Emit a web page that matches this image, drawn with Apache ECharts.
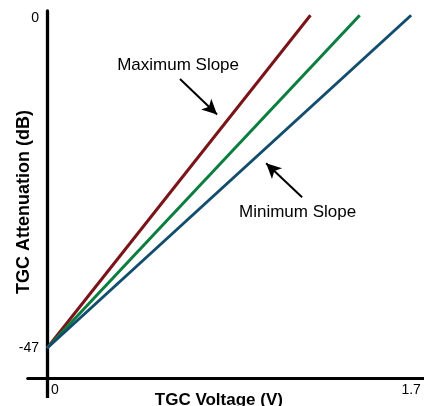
<!DOCTYPE html>
<html>
<head>
<meta charset="utf-8">
<script src="https://cdn.jsdelivr.net/npm/echarts@6/dist/echarts.min.js"></script>
<style>
html,body{margin:0;padding:0;background:#fff;}
#chart{width:424px;height:406px;}
</style>
</head>
<body>
<div id="chart"></div>
<script>
// ---- data ----
const maxSlope = [[0, -47], [1.23, 0]];
const midSlope = [[0, -47], [1.46, 0]];
const minSlope = [[0, -47], [1.70, 0]];
const xTickValues = [0, 1.7];
const yTickValues = [0, -47];
const xTitle = 'TGC Voltage (V)';
const yTitle = 'TGC Attenuation (dB)';
const maxLabel = 'Maximum Slope';
const minLabel = 'Minimum Slope';
// annotation anchors (data units)
const maxLabelAt = [0.612, -7.0];
const maxArrow = [[0.621, -9.0], [0.794, -14.0]];
const minLabelAt = [1.17, -27.8];
const minArrow = [[1.191, -25.7], [1.023, -20.9]];

const FONT = 'Liberation Sans, Arial, sans-serif';
const chart = echarts.init(document.getElementById('chart'), null, {renderer: 'canvas'});

function lineSeries(name, data, color) {
  return {
    name, type: 'line', data, symbol: 'none', silent: true,
    lineStyle: {color, width: 3}, z: 3, animation: false
  };
}

const option = {
  animation: false,
  backgroundColor: '#fff',
  grid: {left: 27.7, right: 0, top: 11, bottom: 28, containLabel: false, outerBoundsMode: 'none'},
  xAxis: {
    type: 'value', min: -0.09, max: 1.76,
    axisLine: {show: true, onZero: false, lineStyle: {color: '#000', width: 3}},
    axisTick: {show: true, customValues: [0], length: 20, inside: false, lineStyle: {color: '#000', width: 3.3}},
    splitLine: {show: false},
    axisLabel: {
      customValues: xTickValues, margin: 5, fontFamily: FONT, fontSize: 14, color: '#000',
      formatter: v => v === 0 ? '{z|0}' : String(v),
      rich: {z: {padding: [0, 0, 0, 16], fontFamily: FONT, fontSize: 14, color: '#000'}}
    },
    name: xTitle, nameLocation: 'middle', nameGap: 14, nameMoveOverlap: false,
    nameTextStyle: {fontFamily: FONT, fontSize: 17, fontWeight: 'bold', color: '#000', padding: [0, 14, 0, 0]}
  },
  yAxis: {
    type: 'value', min: -51.2, max: 0.6,
    axisLine: {show: true, onZero: true, lineStyle: {color: '#000', width: 3.3}},
    axisTick: {show: false},
    splitLine: {show: false},
    axisLabel: {
      customValues: yTickValues, margin: -11.3, fontFamily: FONT, fontSize: 14, color: '#000',
      formatter: v => v === 0 ? '{z|0}' : String(v),
      rich: {z: {padding: [6, 0, 0, 0], fontFamily: FONT, fontSize: 14, color: '#000'}}
    },
    name: yTitle, nameLocation: 'middle', nameGap: -5, nameRotate: 90, nameMoveOverlap: false,
    nameTextStyle: {fontFamily: FONT, fontSize: 18, fontWeight: 'bold', color: '#000', padding: [0, 15, 0, 0]}
  },
  series: [
    lineSeries('Maximum Slope', maxSlope, '#7a1418'),
    lineSeries('Nominal', midSlope, '#0b7d3e'),
    lineSeries('Minimum Slope', minSlope, '#124d6e'),
    {
      type: 'line', data: [], silent: true,
      markLine: {
        silent: true, animation: false,
        symbol: ['none', 'arrow'], symbolSize: [11, 15],
        lineStyle: {color: '#000', width: 2, type: 'solid'},
        label: {show: false},
        data: [
          [{coord: maxArrow[0]}, {coord: maxArrow[1]}],
          [{coord: minArrow[0]}, {coord: minArrow[1]}]
        ]
      },
      markPoint: {
        silent: true, animation: false, symbol: 'circle', symbolSize: 0,
        label: {show: true, position: 'inside', fontFamily: FONT, fontSize: 17, color: '#000', formatter: p => p.name},
        data: [
          {name: maxLabel, coord: maxLabelAt},
          {name: minLabel, coord: minLabelAt}
        ]
      }
    }
  ]
};
chart.setOption(option);
</script>
</body>
</html>
